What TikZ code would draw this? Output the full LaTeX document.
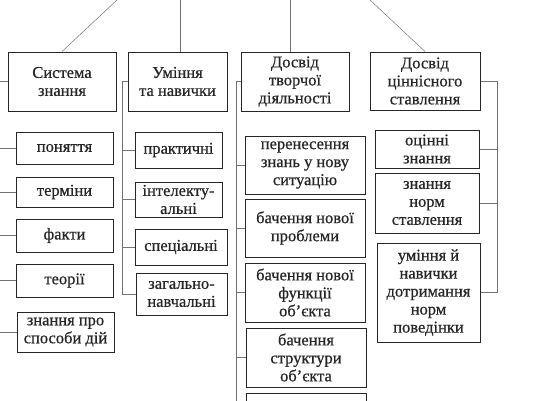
\documentclass[tikz,border=0pt]{standalone}
\usepackage{fontspec}
\setmainfont{Liberation Serif}
\newfontfamily\boxfont{Liberation Serif}[FakeBold=0.6]
\usepackage{tikz}
\usetikzlibrary{calc}
\tikzset{head box/.style={draw=black!85,line width=1pt,fill=white,align=center,inner sep=0pt,text=black!85,font=\boxfont\fontsize{16.5}{18}\selectfont},item box/.style={head box},link/.style={draw=black!55,line width=0.5pt}}

\begin{document}
\begin{tikzpicture}[x=1pt,y=-1pt]
			\useasboundingbox (0,0) rectangle (547,400);
			% heads
			\node[head box,minimum width=108,minimum height=59] (sys) at (62,81.5) {Система\\знання};
			\node[head box,minimum width=99,minimum height=59] (skill) at (177.5,81.5) {Уміння\\та навички};
			\node[head box,minimum width=108,minimum height=59] (creat) at (295,81.5) {Досвід\\творчої\\діяльності};
			\node[head box,minimum width=110,minimum height=58] (value) at (425,81) {Досвід\\ціннісного\\ставлення};

			% column 1
			\node[item box,minimum width=97,minimum height=32] (k1) at (64.5,148) {поняття};
			\node[item box,minimum width=97,minimum height=30] (k2) at (64.5,192) {терміни};
			\node[item box,minimum width=97,minimum height=33] (k3) at (64.5,235.5) {факти};
			\node[item box,minimum width=97,minimum height=33] (k4) at (64.5,280.5) {теорії};
			\node[item box,minimum width=97,minimum height=40] (k5) at (65.5,332) {знання про\\способи дій};

			% column 2
			\node[item box,minimum width=87,minimum height=36] (s1) at (178.5,150) {практичні};
			\node[item box,minimum width=87,minimum height=35] (s2) at (178.5,199.5) {інтелекту-\\альні};
			\node[item box,minimum width=92,minimum height=36] (s3) at (181,247) {спеціальні};
			\node[item box,minimum width=91,minimum height=42] (s4) at (181.5,294) {загально-\\навчальні};

			% column 3
			\node[item box,minimum width=120,minimum height=58] (c1) at (305,165) {перенесення\\знань у нову\\ситуацію};
			\node[item box,minimum width=120,minimum height=58] (c2) at (305,228) {бачення нової\\проблеми};
			\node[item box,minimum width=120,minimum height=59] (c3) at (305,292.5) {бачення нової\\функції\\об’єкта};
			\node[item box,minimum width=120,minimum height=59] (c4) at (306,357.5) {бачення\\структури\\об’єкта};
			\node[item box,minimum width=120,minimum height=58] (c5) at (306,422) {};

			% column 4
			\node[item box,minimum width=104,minimum height=38] (v1) at (427,149) {оцінні\\знання};
			\node[item box,minimum width=104,minimum height=60] (v2) at (427,203) {знання\\норм\\ставлення};
			\node[item box,minimum width=103,minimum height=99] (v3) at (428.5,292.5) {уміння й\\навички\\дотримання\\норм\\поведінки};

			% links from above
			\coordinate (t1) at (117,0);
			\coordinate (t2) at (180,0);
			\coordinate (t3) at (290,0);
			\coordinate (t4) at (370,0);
			\draw[link] (t1) -- (sys.north);
			\draw[link] (t2) -- (t2 |- skill.north);
			\draw[link] (t3) -- (t3 |- creat.north);
			\draw[link] (t4) -- (value.north);

			% buses
			\coordinate (b1) at (-3,0);
			\coordinate (b2) at (122,0);
			\coordinate (b3) at (236,0);
			\coordinate (b4) at (497,0);
			\foreach \n in {sys,k1,k2,k3,k4,k5}
				\draw[link] (\n.west) -- (\n.west -| b1);
			\draw[link] (skill.west -| b2) -- (s4.west -| b2);
			\foreach \n in {skill,s1,s2,s3,s4}
				\draw[link] (\n.west) -- (\n.west -| b2);
			\draw[link] (creat.west -| b3) -- (c5.west -| b3);
			\foreach \n in {creat,c1,c2,c3,c4,c5}
				\draw[link] (\n.west) -- (\n.west -| b3);
			\draw[link] (value.east -| b4) -- (v3.east -| b4);
			\foreach \n in {value,v1,v2,v3}
				\draw[link] (\n.east) -- (\n.east -| b4);
		\end{tikzpicture}
\end{document}
